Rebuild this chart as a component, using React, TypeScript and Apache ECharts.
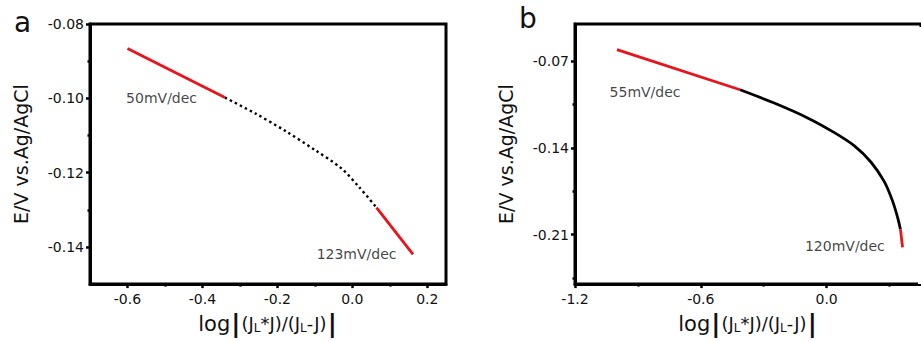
import React, { useEffect, useRef } from "react";
import * as echarts from "echarts";

// ---------- Panel a data ----------
const aFitLow: number[][] = [[-0.6, -0.0866], [-0.34, -0.0998]];
const aMiddle: number[][] = [
  [-0.34, -0.0998], [-0.26, -0.104], [-0.18, -0.1087], [-0.1, -0.1139],
  [-0.03, -0.1188], [0.02, -0.1241], [0.0645, -0.1294],
];
const aFitHigh: number[][] = [[0.0645, -0.1294], [0.162, -0.142]];
const aNotes: (number | string)[][] = [[-0.509, -0.0998, "50mV/dec"], [0.0113, -0.142, "123mV/dec"]];
const aXTicks = [-0.6, -0.4, -0.2, 0.0, 0.2];
const aXMinor = [-0.5, -0.3, -0.1, 0.1];
const aYTicks = [-0.14, -0.12, -0.1, -0.08];
const aYMinor = [-0.13, -0.11, -0.09];

// ---------- Panel b data ----------
const bFitLow: number[][] = [[-1.0, -0.0607], [-0.413, -0.0931]];
const bMiddle: number[][] = [
  [-0.413, -0.0931], [-0.253, -0.1036], [-0.093, -0.1156], [0.035, -0.1275],
  [0.131, -0.1382], [0.211, -0.1514], [0.275, -0.1673], [0.315, -0.1832],
  [0.339, -0.1965], [0.352, -0.2058],
];
const bFitHigh: number[][] = [[0.352, -0.2058], [0.362, -0.2204]];
const bNotes: (number | string)[][] = [[-0.866, -0.0953, "55mV/dec"], [0.087, -0.2195, "120mV/dec"]];
const bXTicks = [-1.2, -0.6, 0.0];
const bXMinor = [-0.9, -0.3, 0.3];
const bYTicks = [-0.21, -0.14, -0.07];
const bYMinor = [-0.245, -0.175, -0.105];

const FONT = "DejaVu Sans";
const TXT = "#111";
const RED = "#e8141b";

const xName =
  "{log|log}{bar||}{t|(J}{s|L}{t|*J)/(J}{s|L}{t|-J)}{bar||}";
const xNameRich = {
  log: { fontSize: 21, fontFamily: FONT, color: TXT },
  t: { fontSize: 18, fontFamily: FONT, color: TXT },
  s: { fontSize: 12, fontFamily: FONT, color: TXT, padding: [9, 0, 0, 0] },
  bar: { fontSize: 25, fontFamily: FONT, color: TXT, fontWeight: "bold", padding: [0, 1, 0, 1] },
};

function mainX(grid: number, min: number, max: number, ticks: number[]) {
  return {
    type: "value", gridIndex: grid, min, max, position: "bottom",
    axisLine: { show: true, onZero: false, lineStyle: { color: "#000", width: 3 } },
    axisTick: { show: true, inside: false, length: 4, customValues: ticks, lineStyle: { color: "#000", width: 2.5 } },
    axisLabel: {
      customValues: ticks, margin: 8, fontFamily: FONT, fontSize: 14, color: TXT,
      formatter: (v: number) => v.toFixed(1),
    },
    splitLine: { show: false },
    name: xName, nameLocation: "middle", nameGap: 21,
    nameTextStyle: { rich: xNameRich },
  };
}
function minorX(grid: number, min: number, max: number, ticks: number[]) {
  return {
    type: "value", gridIndex: grid, min, max, position: "bottom",
    axisLine: { show: false, onZero: false },
    axisTick: { show: true, length: 2.5, customValues: ticks, lineStyle: { color: "#000", width: 2.5 } },
    axisLabel: { show: false },
    splitLine: { show: false },
  };
}
function mainY(grid: number, min: number, max: number, ticks: number[]) {
  return {
    type: "value", gridIndex: grid, min, max, position: "left",
    axisLine: { show: true, onZero: false, lineStyle: { color: "#000", width: 3 } },
    axisTick: { show: true, length: 4, customValues: ticks, lineStyle: { color: "#000", width: 2.5 } },
    axisLabel: {
      customValues: ticks, margin: 6, fontFamily: FONT, fontSize: 14, color: TXT,
      formatter: (v: number) => v.toFixed(2),
    },
    splitLine: { show: false },
    name: "E/V vs.Ag/AgCl", nameLocation: "middle", nameGap: 60,
    nameTextStyle: { fontFamily: FONT, fontSize: 19, color: TXT },
  };
}
function minorY(grid: number, min: number, max: number, ticks: number[]) {
  return {
    type: "value", gridIndex: grid, min, max, position: "left",
    axisLine: { show: false, onZero: false },
    axisTick: { show: true, length: 2.5, customValues: ticks, lineStyle: { color: "#000", width: 2.5 } },
    axisLabel: { show: false },
    splitLine: { show: false },
  };
}

function lineSeries(xi: number, yi: number, data: number[][], color: string, dotted: boolean, z: number) {
  return {
    type: "line", xAxisIndex: xi, yAxisIndex: yi, data, showSymbol: false, symbol: "none",
    smooth: 0.3, z,
    lineStyle: { color, width: dotted ? 2.4 : 2.8, type: dotted ? [2.4, 3.2] : "solid", cap: "butt" },
    silent: true,
  };
}
function noteSeries(xi: number, yi: number, notes: (number | string)[][]) {
  return {
    type: "scatter", xAxisIndex: xi, yAxisIndex: yi, symbolSize: 0, silent: true,
    data: notes.map((n) => ({ value: [n[0], n[1]], name: n[2] })),
    label: {
      show: true, position: "inside", formatter: (p: any) => p.name,
      fontFamily: FONT, fontSize: 14, color: TXT,
    },
  };
}

export default function App() {
  const ref = useRef<HTMLDivElement>(null);
  useEffect(() => {
    if (!ref.current) return;
    const chart = echarts.init(ref.current, null, { renderer: "svg" });
    chart.setOption({
      animation: false,
      backgroundColor: "#fff",
      textStyle: { fontFamily: FONT },
      grid: [
        { show: true, borderColor: "#000", borderWidth: 3, left: 90, top: 24, width: 356, height: 262 },
        { show: true, borderColor: "#000", borderWidth: 3, left: 575, top: 24, width: 346, height: 262 },
      ],
      xAxis: [
        mainX(0, -0.7, 0.25, aXTicks),
        minorX(0, -0.7, 0.25, aXMinor),
        mainX(1, -1.2, 0.45, bXTicks),
        minorX(1, -1.2, 0.45, bXMinor),
      ],
      yAxis: [
        mainY(0, -0.15, -0.08, aYTicks),
        minorY(0, -0.15, -0.08, aYMinor),
        mainY(1, -0.25, -0.04, bYTicks),
        minorY(1, -0.25, -0.04, bYMinor),
      ],
      series: [
        lineSeries(0, 0, aMiddle, "#000", true, 2),
        lineSeries(0, 0, aFitLow, RED, false, 3),
        lineSeries(0, 0, aFitHigh, RED, false, 3),
        noteSeries(0, 0, aNotes),
        lineSeries(2, 2, bMiddle, "#000", false, 2),
        lineSeries(2, 2, bFitLow, RED, false, 3),
        lineSeries(2, 2, bFitHigh, RED, false, 3),
        noteSeries(2, 2, bNotes),
      ],
      graphic: [
        { type: "text", left: 14, top: 8, style: { text: "a", fontFamily: FONT, fontSize: 28, fill: TXT } },
        { type: "text", left: 519, top: 4, style: { text: "b", fontFamily: FONT, fontSize: 28, fill: TXT } },
        { type: "rect", right: 0, top: 27, z: 100, shape: { width: 3, height: 257 }, style: { fill: "#fff" } },
      ],
    });
    return () => chart.dispose();
  }, []);
  return (
    <div
      ref={ref}
      style={{ position: "fixed", left: 0, top: 0, width: 921, height: 341, overflow: "hidden" }}
    />
  );
}
